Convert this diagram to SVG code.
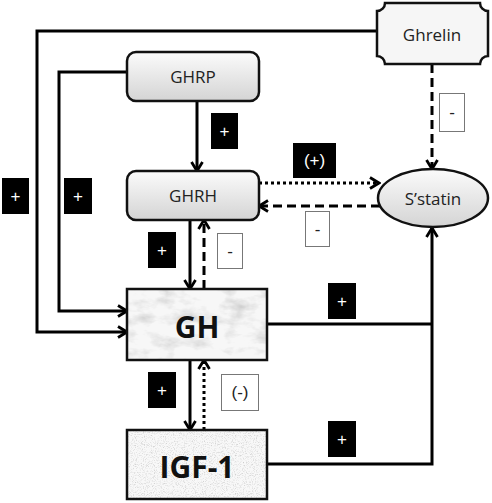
<svg xmlns="http://www.w3.org/2000/svg" width="492" height="503" viewBox="0 0 492 503">
<style>
.ln{fill:none;stroke:#000;stroke-width:3}
.dash{stroke-dasharray:9 5}
.dot{stroke-dasharray:3 3}
.arr{marker-end:url(#ah)}
.nt{font-family:"Open Sans","Liberation Sans",sans-serif;font-size:17px;fill:#222;text-anchor:middle;dominant-baseline:central}
.big{font-family:"Open Sans","Liberation Sans",sans-serif;font-size:30px;font-weight:bold;fill:#111;text-anchor:middle;dominant-baseline:central}
.bl{fill:#000}
.wl{fill:#fff;stroke:#777;stroke-width:1}
.bt{font-family:"Liberation Sans",sans-serif;font-size:17px;fill:#fff;text-anchor:middle;dominant-baseline:central}
.wt{font-family:"Liberation Sans",sans-serif;font-size:17px;fill:#222;text-anchor:middle;dominant-baseline:central}
.box{stroke:#111;stroke-width:2.5}
</style>
<defs>
<marker id="ah" markerUnits="userSpaceOnUse" viewBox="0 0 12 14" refX="10.5" refY="7" markerWidth="12" markerHeight="14" orient="auto">
<path d="M1.5,1.5 L10.5,7 L1.5,12.5" fill="none" stroke="#000" stroke-width="2.8"/>
</marker>
<linearGradient id="g1" x1="0" y1="0" x2="0" y2="1">
<stop offset="0" stop-color="#fbfbfb"/><stop offset="1" stop-color="#d4d4d4"/>
</linearGradient>
<filter id="marble" x="0" y="0" width="100%" height="100%">
<feTurbulence type="fractalNoise" baseFrequency="0.04 0.08" numOctaves="4" seed="3" result="n"/>
<feColorMatrix in="n" type="matrix" values="0 0 0 0 0.62  0 0 0 0 0.62  0 0 0 0 0.62  -2.2 0 0 0 1.2" result="c"/>
<feFlood flood-color="#f7f7f7" result="bg"/>
<feComposite in="c" in2="bg" operator="over" result="m"/>
<feComposite in="m" in2="SourceGraphic" operator="in"/>
</filter>
<filter id="speck" x="0" y="0" width="100%" height="100%">
<feTurbulence type="fractalNoise" baseFrequency="0.9" numOctaves="2" seed="5" result="n"/>
<feColorMatrix in="n" type="matrix" values="0 0 0 0 0.6  0 0 0 0 0.6  0 0 0 0 0.6  -2.4 0 0 0 1.25" result="c"/>
<feFlood flood-color="#f8f8f8" result="bg"/>
<feComposite in="c" in2="bg" operator="over" result="m"/>
<feComposite in="m" in2="SourceGraphic" operator="in"/>
</filter>
</defs>
<rect width="492" height="503" fill="#fff"/>

<g id="connectors">
<path class="ln arr" d="M377,31 H37 V332 H127"/>
<path class="ln arr" d="M127,72 H59 V311 H127"/>
<path class="ln arr" d="M197,101 V171"/>
<path class="ln arr" d="M190,220 V289"/>
<path class="ln dash arr" d="M204,289 V220"/>
<path class="ln arr" d="M190,360 V430"/>
<path class="ln dot arr" d="M204,430 V360"/>
<path class="ln dot arr" d="M259,183 H379"/>
<path class="ln dash arr" d="M380,206 H259"/>
<path class="ln dash arr" d="M432,64 V169"/>
<path class="ln" d="M267,324 H432"/>
<path class="ln arr" d="M267,464 H432 V228"/>
</g>

<g id="labels">
<rect class="bl" x="2" y="178" width="27" height="36"/><text class="bt" x="15.5" y="196">+</text>
<rect class="bl" x="64" y="178" width="28" height="36"/><text class="bt" x="78" y="196">+</text>
<rect class="bl" x="211" y="113" width="27" height="36"/><text class="bt" x="224.5" y="131">+</text>
<rect class="bl" x="148" y="232" width="28" height="36"/><text class="bt" x="162" y="250">+</text>
<rect class="wl" x="217.5" y="233.5" width="25" height="35"/><text class="wt" x="230" y="251">-</text>
<rect class="bl" x="293" y="143" width="43" height="35"/><text class="bt" x="314.5" y="160.5">(+)</text>
<rect class="wl" x="305.5" y="211.5" width="24" height="35"/><text class="wt" x="317.5" y="229">-</text>
<rect class="wl" x="439.5" y="93.5" width="25" height="38"/><text class="wt" x="452" y="112.5">-</text>
<rect class="bl" x="328" y="283" width="28" height="36"/><text class="bt" x="342" y="301">+</text>
<rect class="bl" x="148" y="372" width="28" height="36"/><text class="bt" x="162" y="390">+</text>
<rect class="wl" x="221.5" y="374.5" width="37" height="36"/><text class="wt" x="240" y="392.5">(-)</text>
<rect class="bl" x="328" y="421" width="28" height="36"/><text class="bt" x="342" y="439">+</text>
</g>

<g id="ghrelin">
<path d="M385,3 H480 A8,8 0 0 0 488,11 V56 A8,8 0 0 0 480,64 H385 A8,8 0 0 0 377,56 V11 A8,8 0 0 0 385,3 Z" fill="#f6f6f6" class="box"/>
<text class="nt" x="432" y="34">Ghrelin</text>
</g>

<g id="ghrp">
<rect x="127" y="52" width="132" height="49" rx="9" fill="url(#g1)" class="box"/>
<text class="nt" x="193" y="76">GHRP</text>
</g>

<g id="ghrh">
<rect x="127" y="171" width="132" height="49" rx="9" fill="url(#g1)" class="box"/>
<text class="nt" x="193" y="195">GHRH</text>
</g>

<g id="sstatin">
<ellipse cx="433" cy="198" rx="55" ry="29" fill="url(#g1)" class="box"/>
<text class="nt" x="433" y="198">S’statin</text>
</g>

<g id="gh">
<rect x="127" y="289" width="140" height="71" fill="#eee" filter="url(#marble)"/>
<rect x="127" y="289" width="140" height="71" fill="none" class="box" stroke-width="3"/>
<text class="big" x="197" y="326">GH</text>
</g>

<g id="igf1">
<rect x="127" y="430" width="140" height="69" fill="#eee" filter="url(#speck)"/>
<rect x="127" y="430" width="140" height="69" fill="none" class="box" stroke-width="3"/>
<text class="big" x="197" y="466">IGF-1</text>
</g>
</svg>
